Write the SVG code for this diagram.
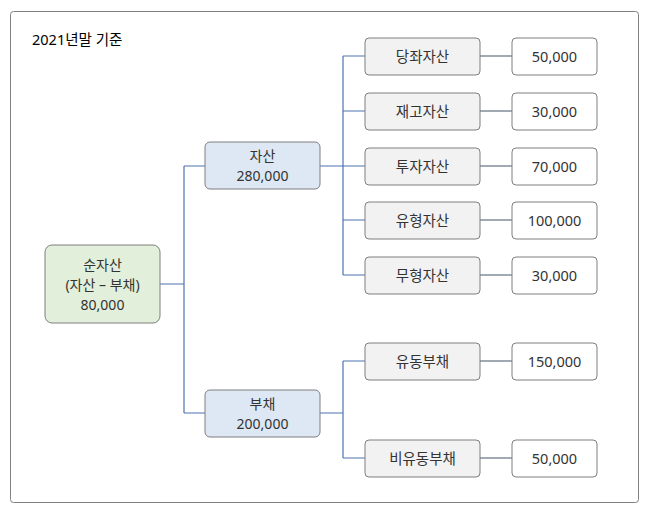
<svg xmlns="http://www.w3.org/2000/svg" width="650" height="512" viewBox="0 0 650 512">
<style>
text{font-family:"Noto Sans","Noto Sans CJK KR",sans-serif;font-size:14.5px;fill:#333;text-anchor:middle;dominant-baseline:central}
.t2{font-size:14px}
.n{stroke:#7f7f7f;stroke-width:1}
.g{fill:#e2efda}.b{fill:#dde8f4}.s{fill:#f2f2f2}.w{fill:#fff}
.c{fill:none;stroke:#4f72b0;stroke-width:1.2}
.v{fill:none;stroke:#44546a;stroke-width:1.2}
</style>
<rect x="0" y="0" width="650" height="512" fill="#fff"/>
<rect x="10.5" y="11.5" width="628" height="491" rx="3" fill="#fff" stroke="#808080"/>
<text x="32" y="39" style="text-anchor:start;font-size:14.5px;fill:#000">2021년말 기준</text>
<g id="connectors">
<path class="c" d="M160 284H184M184 166V413M184 166H205M184 413H205"/>
<path class="c" d="M320 166H343M343 56V275M343 56H365M343 111H365M343 166H365M343 220H365M343 275H365"/>
<path class="c" d="M320 413H343M343 361V458M343 361H365M343 458H365"/>
<path class="v" d="M480 56H512M480 111H512M480 166H512M480 220H512M480 275H512M480 361H512M480 458H512"/>
</g>
<g id="root"><rect class="n g" x="45" y="245" width="115" height="78" rx="7"/><text class="t2" x="102.5" y="264">순자산</text><text class="t2" x="102.5" y="284">(자산 – 부채)</text><text class="t2" x="102.5" y="304">80,000</text></g>
<g id="asset"><rect class="n b" x="205" y="142" width="115" height="47" rx="5"/><text class="t2" x="262.5" y="155.5">자산</text><text class="t2" x="262.5" y="175.5">280,000</text></g>
<g id="liab"><rect class="n b" x="205" y="390" width="115" height="47" rx="5"/><text class="t2" x="262.5" y="403.5">부채</text><text class="t2" x="262.5" y="423.5">200,000</text></g>
<g id="a1"><rect class="n s" x="365" y="38" width="115" height="37" rx="4"/><text x="422.5" y="56">당좌자산</text></g>
<g id="a2"><rect class="n s" x="365" y="93" width="115" height="37" rx="4"/><text x="422.5" y="111">재고자산</text></g>
<g id="a3"><rect class="n s" x="365" y="148" width="115" height="37" rx="4"/><text x="422.5" y="166">투자자산</text></g>
<g id="a4"><rect class="n s" x="365" y="202" width="115" height="37" rx="4"/><text x="422.5" y="220">유형자산</text></g>
<g id="a5"><rect class="n s" x="365" y="257" width="115" height="37" rx="4"/><text x="422.5" y="275">무형자산</text></g>
<g id="l1"><rect class="n s" x="365" y="343" width="115" height="37" rx="4"/><text x="422.5" y="361">유동부채</text></g>
<g id="l2"><rect class="n s" x="365" y="440" width="115" height="37" rx="4"/><text x="422.5" y="458">비유동부채</text></g>
<g id="v1"><rect class="n w" x="512" y="38" width="85" height="37" rx="4"/><text x="554.5" y="56">50,000</text></g>
<g id="v2"><rect class="n w" x="512" y="93" width="85" height="37" rx="4"/><text x="554.5" y="111">30,000</text></g>
<g id="v3"><rect class="n w" x="512" y="148" width="85" height="37" rx="4"/><text x="554.5" y="166">70,000</text></g>
<g id="v4"><rect class="n w" x="512" y="202" width="85" height="37" rx="4"/><text x="554.5" y="220">100,000</text></g>
<g id="v5"><rect class="n w" x="512" y="257" width="85" height="37" rx="4"/><text x="554.5" y="275">30,000</text></g>
<g id="v6"><rect class="n w" x="512" y="343" width="85" height="37" rx="4"/><text x="554.5" y="361">150,000</text></g>
<g id="v7"><rect class="n w" x="512" y="440" width="85" height="37" rx="4"/><text x="554.5" y="458">50,000</text></g>
</svg>
